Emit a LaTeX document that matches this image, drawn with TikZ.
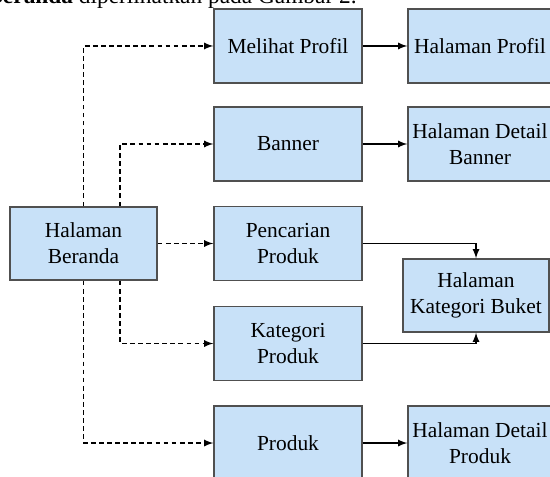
\documentclass[tikz,border=0pt]{standalone}
\usepackage{fontspec}
\setmainfont{Liberation Serif}
\usetikzlibrary{arrows}
\definecolor{boxfill}{RGB}{200,225,248}
\definecolor{boxline}{RGB}{80,80,80}
\newcommand{\FlowArrowType}{latex}

\begin{document}
\begin{tikzpicture}[>=\FlowArrowType, x=0.02cm, y=-0.02cm,
		page/.style={draw=boxline, fill=boxfill, line width=0.8pt, align=center,
			minimum width=2.96cm, minimum height=1.48cm, inner sep=0pt,
			font=\fontsize{12.2}{14.7}\selectfont},
		link/.style={->, line width=0.8pt},
		dashlink/.style={->, line width=0.8pt, dash pattern=on 2.7pt off 1.9pt}]
				\useasboundingbox (0,0) rectangle (550,476);

				% line of text above the figure, cut by the page edge
				\node[anchor=base east, inner sep=0pt,
					font=\fontsize{13.3}{16}\selectfont] (caption) at (357,3.5)
					{\textbf{Beranda} diperlihatkan pada Gambar 2.};

				\node[page, minimum width=2.94cm, minimum height=1.46cm] (beranda) at (83.5,243.5)
					{Halaman\\Beranda};

				\node[page] (profil) at (288,46) {Melihat Profil};
				\node[page] (banner) at (288,144) {Banner};
				\node[page] (cari) at (288,243.5) {Pencarian\\Produk};
				\node[page] (kategori) at (288,343.5) {Kategori\\Produk};
				\node[page] (produk) at (288,443) {Produk};

				\node[page, minimum width=2.88cm] (halprofil) at (480,46) {Halaman Profil};
				\node[page, minimum width=2.88cm] (detbanner) at (480,144)
					{Halaman Detail\\Banner};
				\node[page, minimum width=2.92cm, minimum height=1.46cm] (buket) at (476,295.5)
					{Halaman\\Kategori Buket};
				\node[page, minimum width=2.88cm] (detproduk) at (480,443)
					{Halaman Detail\\Produk};

				\draw[dashlink] (beranda.north) |- (profil.west);
				\draw[dashlink] ([xshift=0.73cm]beranda.north) |- (banner.west);
				\draw[dashlink] (beranda.east) -- (cari.west);
				\draw[dashlink] ([xshift=0.73cm]beranda.south) |- (kategori.west);
				\draw[dashlink] (beranda.south) |- (produk.west);

				\draw[link] (profil.east) -- (halprofil.west);
				\draw[link] (banner.east) -- (detbanner.west);
				\draw[link] (cari.east) -| (buket.north);
				\draw[link] (kategori.east) -| (buket.south);
				\draw[link] (produk.east) -- (detproduk.west);
			\end{tikzpicture}
\end{document}
